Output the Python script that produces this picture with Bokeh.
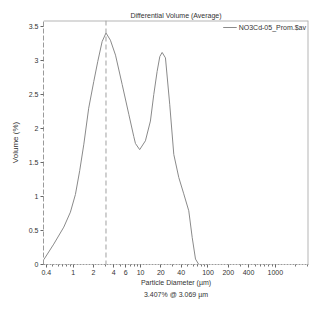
from bokeh.plotting import figure
from bokeh.models import FixedTicker, Span, Title, Legend, LegendItem, CustomJSTickFormatter
from bokeh.embed import file_html
from bokeh.resources import INLINE

# ---- data ----
diameter_um = [0.366, 0.515, 0.726, 0.91, 1.08, 1.25, 1.44, 1.70, 2.02, 2.32, 2.69,
               3.069, 3.57, 4.25, 5.33, 6.69, 7.94, 8.4, 9.7, 11.8, 14.0, 15.7,
               17.6, 19.3, 20.9, 23.4, 27.1, 31.1, 36.9, 43.7, 51.9, 58.3, 65.3, 73.1]
volume_pct = [0.07, 0.30, 0.55, 0.77, 1.03, 1.38, 1.77, 2.30, 2.69, 2.99, 3.28,
              3.407, 3.30, 3.08, 2.65, 2.21, 1.88, 1.78, 1.69, 1.82, 2.11, 2.50,
              2.84, 3.06, 3.12, 3.04, 2.35, 1.62, 1.28, 1.04, 0.79, 0.40, 0.08, 0.0]
x_ticks = [0.4, 1, 2, 4, 6, 10, 20, 40, 100, 200, 400, 1000]
x_minor = [0.5, 0.6, 0.7, 0.8, 0.9, 3, 5, 7, 8, 9, 30, 50, 60, 70, 80, 90,
           300, 500, 600, 700, 800, 900, 2000, 3000]
y_ticks = [0, 0.5, 1, 1.5, 2, 2.5, 3, 3.5]
peak_d = 3.069
peak_v = 3.407
chart_title = "Differential Volume (Average)"
series_name = "NO3Cd-05_Prom.$av"
x_label = "Particle Diameter (µm)"
y_label = "Volume (%)"

FONT = "Liberation Sans"
TXT = "#333333"
AX = "#9a9a9a"
X_END = 3100
Y_END = 3.59

p = figure(width=320, height=304, x_axis_type="log",
           x_range=(0.363, X_END), y_range=(0, Y_END),
           output_backend="svg", toolbar_location=None,
           min_border_left=43, min_border_right=12,
           min_border_top=20, min_border_bottom=40)

p.title.text = chart_title
p.title.align = "center"
p.title.text_font = FONT
p.title.text_font_size = "7px"
p.title.text_font_style = "normal"
p.title.text_color = TXT
p.title.standoff = 3

p.outline_line_color = None
p.grid.visible = False
p.background_fill_color = "white"

fmt = CustomJSTickFormatter(code="return tick.toString();")

xa = p.xaxis[0]
xa.ticker = FixedTicker(ticks=x_ticks, minor_ticks=x_minor)
xa.formatter = fmt
xa.axis_label = x_label
xa.axis_line_color = AX
xa.axis_line_dash = "2 1"
xa.major_tick_line_color = "#666666"
xa.minor_tick_line_color = "#777777"
xa.major_tick_out = 3
xa.major_tick_in = 0
xa.minor_tick_out = 2
xa.minor_tick_in = 0
xa.major_label_standoff = 2
xa.major_label_text_font = FONT
xa.major_label_text_font_size = "7px"
xa.major_label_text_color = TXT
xa.axis_label_text_font = FONT
xa.axis_label_text_font_size = "7px"
xa.axis_label_text_font_style = "normal"
xa.axis_label_text_color = TXT
xa.axis_label_standoff = 1

ya = p.yaxis[0]
ya.ticker = FixedTicker(ticks=y_ticks)
ya.formatter = fmt
ya.axis_label = y_label
ya.axis_line_color = AX
ya.axis_line_dash = "5 2"
ya.major_tick_line_color = "#666666"
ya.minor_tick_line_color = None
ya.major_tick_out = 3
ya.major_tick_in = 0
ya.major_label_standoff = 2
ya.major_label_text_font = FONT
ya.major_label_text_font_size = "7px"
ya.major_label_text_color = TXT
ya.axis_label_text_font = FONT
ya.axis_label_text_font_size = "8px"
ya.axis_label_text_font_style = "normal"
ya.axis_label_text_color = TXT
ya.axis_label_standoff = 6

# top / right borders (solid)
p.add_layout(Span(location=Y_END, dimension="width", line_color="#b5b5b5", line_width=2))
p.add_layout(Span(location=X_END, dimension="height", line_color="#b5b5b5", line_width=2))

# mode marker
p.add_layout(Span(location=peak_d, dimension="height", line_color="#a0a0a0",
                  line_width=1, line_dash="5 3"))

r = p.line(diameter_um, volume_pct, line_color="#8a8a8a", line_width=1)

legend = Legend(items=[LegendItem(label=series_name, renderers=[r])],
                location="top_right", border_line_color=None,
                background_fill_alpha=0, margin=2, padding=4,
                glyph_width=14, glyph_height=10, label_height=10,
                label_standoff=2, label_text_font=FONT,
                label_text_font_size="7px", label_text_color=TXT)
p.add_layout(legend)

p.add_layout(Title(text=f"{peak_v:.3f}% @ {peak_d:.3f} µm", align="center",
                   text_font=FONT, text_font_size="7px", standoff=1,
                   text_font_style="normal", text_color=TXT), "below")

open("out.html", "w").write(file_html(p, INLINE))
